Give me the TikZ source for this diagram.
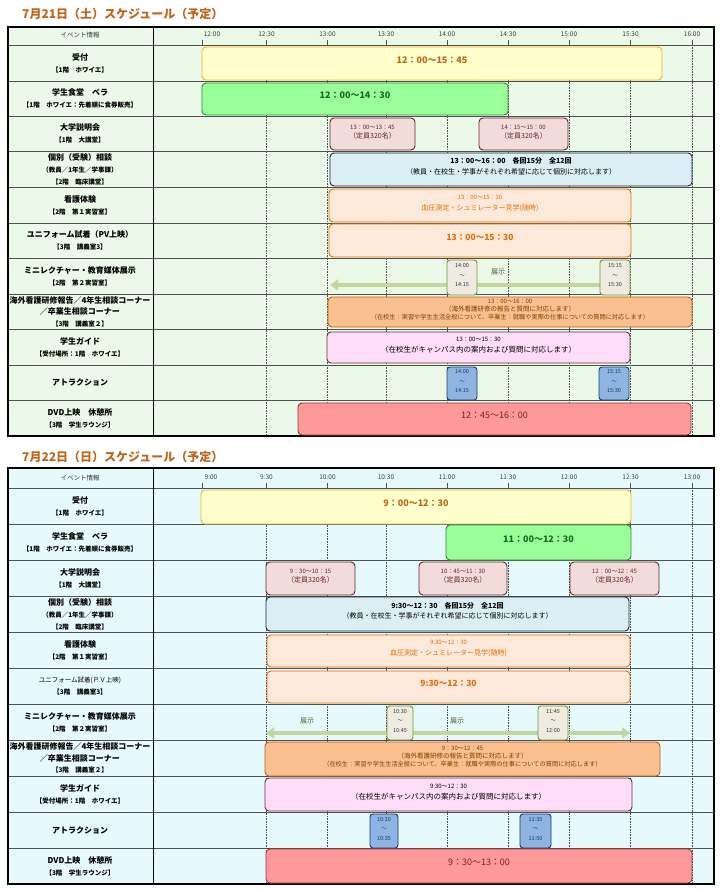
\documentclass[tikz,border=0pt]{standalone}
\usepackage{fontspec}
\setmainfont{Noto Sans CJK JP}
\usetikzlibrary{fit,arrows.meta}
\newcommand\myfs[2]{\fontsize{#1}{#2}\selectfont}
\newcommand\subl[1]{{\myfs{6.5}{12}\bfseries #1}}
\definecolor{bgA}{HTML}{EBFAE8}
\definecolor{bgB}{HTML}{E6F9FC}
\definecolor{titleC}{HTML}{C0651B}
\definecolor{gridC}{HTML}{505050}
\definecolor{ukeF}{HTML}{FFFFCC}\definecolor{ukeD}{HTML}{E6B830}\definecolor{ukeT}{HTML}{C0651B}
\definecolor{shoF}{HTML}{99FF99}\definecolor{shoD}{HTML}{2E8B3E}\definecolor{shoT}{HTML}{1B6B24}
\definecolor{setF}{HTML}{F2DCDB}\definecolor{setD}{HTML}{632523}\definecolor{setT}{HTML}{632523}
\definecolor{kobF}{HTML}{DAEEF3}\definecolor{kobD}{HTML}{1C2740}
\definecolor{kanF}{HTML}{FDE9D9}\definecolor{kanD}{HTML}{E46C0A}\definecolor{kanT}{HTML}{E46C0A}
\definecolor{miniA}{HTML}{C3D69B}\definecolor{miniF}{HTML}{EEECE1}\definecolor{miniD}{HTML}{76923C}\definecolor{miniT}{HTML}{4F6228}
\definecolor{kaiF}{HTML}{FAC090}\definecolor{kaiD}{HTML}{B8601A}\definecolor{kaiT}{HTML}{7F3F00}
\definecolor{guiF}{HTML}{FFDDF9}\definecolor{guiD}{HTML}{6B2F3A}
\definecolor{attF}{HTML}{8DB4E2}\definecolor{attD}{HTML}{1F3864}\definecolor{attT}{HTML}{1F3864}
\definecolor{dvdF}{HTML}{FF9999}\definecolor{dvdD}{HTML}{943634}\definecolor{dvdT}{HTML}{7F1F1F}
\tikzset{
 title/.style={anchor=west, font=\myfs{12}{14}\bfseries, text=titleC, inner sep=0pt},
 lab/.style={align=center, font=\myfs{8}{12}\bfseries, inner sep=0pt},
 tlab/.style={font=\myfs{6.5}{8}, text=black!75, inner sep=0pt},
 hdr/.style={font=\myfs{6.5}{8}, text=black!80, inner sep=0pt},
 rowline/.style={draw=gridC, line width=0.7pt},
 gridline/.style={draw=gridC, line width=0.6pt, densely dotted},
 tick/.style={draw=gridC, line width=0.6pt},
 ev/.style={draw, rounded corners=4pt, line width=0.9pt, inner sep=0pt, align=center},
 ukeb/.style={ev, fill=ukeF, draw=ukeD, text=ukeT, font=\myfs{9}{12}\bfseries},
 shob/.style={ev, fill=shoF, draw=shoD, text=shoT, font=\myfs{9}{12}\bfseries},
 setb/.style={ev, fill=setF, draw=setD, text=setT, font=\myfs{7}{9}},
 kobb/.style={ev, fill=kobF, draw=kobD, text=black, font=\myfs{7}{10.5}},
 kanb/.style={ev, fill=kanF, draw=kanD, text=kanT, font=\myfs{7}{11}},
 unib/.style={ev, fill=kanF, draw=kanD, text=kanT, font=\myfs{8.5}{12}\bfseries},
 minib/.style={ev, fill=miniF, draw=miniD, text=black!80, font=\myfs{5.5}{9.5}, rounded corners=3pt},
 tenji/.style={text=miniT, font=\myfs{7}{9}, inner sep=0pt},
 miniarrow/.style={draw=miniA, line width=4.5pt},
 kaib/.style={ev, fill=kaiF, draw=kaiD, text=kaiT, font=\myfs{6.5}{8}},
 guib/.style={ev, fill=guiF, draw=guiD, text=black, font=\myfs{7.5}{10.5}},
 attb/.style={ev, fill=attF, draw=attD, text=attT, font=\myfs{5.5}{9.5}, rounded corners=3pt},
 dvdb/.style={ev, fill=dvdF, draw=dvdD, text=dvdT, font=\myfs{9}{12}},
}
\begin{document}
\begin{tikzpicture}[x=1pt,y=-1pt]
\useasboundingbox (0,0) rectangle (720,890);
\fill[white] (0,0) rectangle (720,890);

% ================= DAY 1 =================
\node[title] (t1) at (22,14) {7月21日（土）スケジュール（予定）};
\fill[bgA] (8,27) rectangle (714,436);
\foreach \ry in {45,81,116,151,187,223,258,294,329,365,400}
  \draw[rowline] (8,\ry) -- (714,\ry);
\foreach \gx in {266.5,327.5,386,447,508,569,630.5,692}
  \draw[gridline] (\gx,45) -- (\gx,436);
\foreach \gx in {202,266.5,327.5,386,447,508,569,630.5,692}
  \draw[tick] (\gx,40) -- (\gx,45);
\foreach \gx/\tl [count=\i] in {212/12:00,266.5/12:30,327.5/13:00,386/13:30,447/14:00,508/14:30,569/15:00,630.5/15:30,692/16:00}
  \node[tlab] (h1t\i) at (\gx,34) {\tl};
\node[hdr] (h1e) at (80,35) {イベント情報};
\draw[line width=0.8pt] (153,27) -- (153,436);
\draw[line width=1.1pt] (8,27) rectangle (714,436);

\node[lab] (l1a1) at (80,63) {受付\\\subl{【1階　ホワイエ】}};
\node[lab] (l1a2) at (80,98.5) {学生食堂　ベラ\\\subl{【1階　ホワイエ：先着順に食券販売】}};
\node[lab] (l1a3) at (80,133.5) {大学説明会\\\subl{【1階　大講堂】}};
\node[lab] (l1a4) at (80,169) {個別（受験）相談\\\subl{（教員／1年生／学事課）}\\\subl{【2階　臨床講堂】}};
\node[lab] (l1a5) at (80,205) {看護体験\\\subl{【2階　第１実習室】}};
\node[lab] (l1a6) at (80,240.5) {ユニフォーム試着（PV上映）\\\subl{【3階　講義室3】}};
\node[lab] (l1a7) at (80,276) {ミニレクチャー・教育媒体展示\\\subl{【2階　第２実習室】}};
\node[lab, font=\myfs{8}{11.5}\bfseries] (l1a8) at (80,311.5) {海外看護研修報告／4年生相談コーナー\\／卒業生相談コーナー\\\subl{【3階　講義室２】}};
\node[lab] (l1a9) at (80,347) {学生ガイド\\\subl{【受付場所：1階　ホワイエ】}};
\node[lab] (l1a10) at (80,382.5) {アトラクション};
\node[lab] (l1a11) at (80,418) {DVD上映　休憩所\\\subl{【3階　学生ラウンジ】}};

\node[ukeb, fit={(202,47) (662,80)}] (d1uke) {12：00～15：45};
\node[shob, fit={(202,83) (508,115)}] (d1sho) {12：00～14：30};
\node[setb, fit={(330,118) (415,150)}] (d1set1) {{\myfs{6}{9}13：00～13：45}\\（定員320名）};
\node[setb, fit={(479,118) (568,150)}] (d1set2) {{\myfs{6}{9}14：15～15：00}\\（定員320名）};
\node[kobb, fit={(330,153) (692,186)}] (d1kob) {{\bfseries 13：00～16：00　各回15分　全12回}\\（教員・在校生・学事がそれぞれ希望に応じて個別に対応します）};
\node[kanb, fit={(329,189) (631,222)}] (d1kan) {{\myfs{6}{11}13：00～15：30}\\血圧測定・シュミレーター見学(随時)};
\node[unib, fit={(329,224) (631,257)}] (d1uni) {13：00～15：30};
\coordinate (d1ar) at (603,285);
\coordinate (d1al) at (330,285);
\draw[miniarrow, -{Triangle[length=8pt,width=11pt]}] (d1ar) -- (d1al);
\node[tenji] (d1ten) at (498,272) {展示};
\node[minib, fit={(447,260) (477,295)}] (d1m1) {14:00\\～\\14:15};
\node[minib, fit={(600,260) (630,295)}] (d1m2) {15:15\\～\\15:30};
\node[kaib, fit={(328,297) (692,327)}] (d1kai) {{\myfs{6}{8}13：00～16：00}\\（海外看護研修の報告と質問に対応します）\\{\myfs{6.2}{8}（在校生：実習や学生生活全般について、卒業生：就職や実際の仕事についての質問に対応します）}};
\node[guib, fit={(327,332) (630,363)}] (d1gui) {{\myfs{6}{10.5}13：00～15：30}\\（在校生がキャンパス内の案内および質問に対応します）};
\node[attb, fit={(447,367) (477,400)}] (d1at1) {14:00\\～\\14:15};
\node[attb, fit={(599,367) (629,400)}] (d1at2) {15:15\\～\\15:30};
\node[dvdb, fit={(298,403) (691,435)}] (d1dvd) {12：45～16：00};

% ================= DAY 2 =================
\node[title] (t2) at (22,457) {7月22日（日）スケジュール（予定）};
\fill[bgB] (8,468) rectangle (714,884);
\foreach \ry in {488,524,560,596,632,668,704,740,776,812,848}
  \draw[rowline] (8,\ry) -- (714,\ry);
\foreach \gx in {266.5,327.5,386,447,508,569,630.5,692}
  \draw[gridline] (\gx,488) -- (\gx,884);
\foreach \gx in {202,266.5,327.5,386,447,508,569,630.5,692}
  \draw[tick] (\gx,483) -- (\gx,488);
\foreach \gx/\tl [count=\i] in {211/9:00,266.5/9:30,327.5/10:00,386/10:30,447/11:00,508/11:30,569/12:00,630.5/12:30,692/13:00}
  \node[tlab] (h2t\i) at (\gx,477) {\tl};
\node[hdr] (h2e) at (80,478) {イベント情報};
\draw[line width=0.8pt] (153,468) -- (153,884);
\draw[line width=1.1pt] (8,468) rectangle (714,884);

\node[lab] (l2a1) at (80,506) {受付\\\subl{【1階　ホワイエ】}};
\node[lab] (l2a2) at (80,542) {学生食堂　ベラ\\\subl{【1階　ホワイエ：先着順に食券販売】}};
\node[lab] (l2a3) at (80,578) {大学説明会\\\subl{【1階　大講堂】}};
\node[lab] (l2a4) at (80,614) {個別（受験）相談\\\subl{（教員／1年生／学事課）}\\\subl{【2階　臨床講堂】}};
\node[lab] (l2a5) at (80,650) {看護体験\\\subl{【2階　第１実習室】}};
\node[lab] (l2a6) at (80,686) {{\myfs{6.5}{12}\mdseries ユニフォーム試着(ＰＶ上映)}\\\subl{【3階　講義室3】}};
\node[lab] (l2a7) at (80,722) {ミニレクチャー・教育媒体展示\\\subl{【2階　第２実習室】}};
\node[lab, font=\myfs{8}{11.5}\bfseries] (l2a8) at (80,758) {海外看護研修報告／4年生相談コーナー\\／卒業生相談コーナー\\\subl{【3階　講義室２】}};
\node[lab] (l2a9) at (80,794) {学生ガイド\\\subl{【受付場所：1階　ホワイエ】}};
\node[lab] (l2a10) at (80,830) {アトラクション};
\node[lab] (l2a11) at (80,866) {DVD上映　休憩所\\\subl{【3階　学生ラウンジ】}};

\node[ukeb, fit={(201,490) (631,524)}] (d2uke) {9：00～12：30};
\node[shob, fit={(446,525) (631,560)}] (d2sho) {11：00～12：30};
\node[setb, fit={(266,562) (355,595)}] (d2set1) {{\myfs{6}{9}9：30～10：15}\\（定員320名）};
\node[setb, fit={(419,562) (507,595)}] (d2set2) {{\myfs{6}{9}10：45～11：30}\\（定員320名）};
\node[setb, fit={(570,562) (659,595)}] (d2set3) {{\myfs{6}{9}12：00～12：45}\\（定員320名）};
\node[kobb, fit={(266,597) (629,631)}] (d2kob) {{\bfseries 9:30～12：30　各回15分　全12回}\\（教員・在校生・学事がそれぞれ希望に応じて個別に対応します）};
\node[kanb, fit={(267,635) (630,667)}] (d2kan) {{\myfs{6}{11}9:30～12：30}\\血圧測定・シュミレーター見学(随時)};
\node[unib, fit={(267,671) (630,703)}] (d2uni) {9:30～12：30};
\coordinate (d2al) at (266,733);
\coordinate (d2ar) at (630,733);
\draw[miniarrow, {Triangle[length=8pt,width=11pt]}-{Triangle[length=8pt,width=11pt]}] (d2al) -- (d2ar);
\node[tenji] (d2ten1) at (307,721) {展示};
\node[tenji] (d2ten2) at (457,721) {展示};
\node[minib, fit={(387,706) (413,740)}] (d2m1) {10:30\\～\\10:45};
\node[minib, fit={(538,706) (568,740)}] (d2m2) {11:45\\～\\12:00};
\node[kaib, fit={(265,742) (660,776)}] (d2kai) {{\myfs{6}{8}9：30～12：45}\\（海外看護研修の報告と質問に対応します）\\{\myfs{6.2}{8}（在校生：実習や学生生活全般について、卒業生：就職や実際の仕事についての質問に対応します）}};
\node[guib, fit={(265,778) (632,811)}] (d2gui) {{\myfs{6}{10.5}9:30～12：30}\\（在校生がキャンパス内の案内および質問に対応します）};
\node[attb, fit={(370,814) (398,848)}] (d2at1) {10:20\\～\\10:35};
\node[attb, fit={(520,814) (551,848)}] (d2at2) {11:35\\～\\11:50};
\node[dvdb, fit={(266,849) (692,883)}] (d2dvd) {9：30～13：00};
\end{tikzpicture}
\end{document}
